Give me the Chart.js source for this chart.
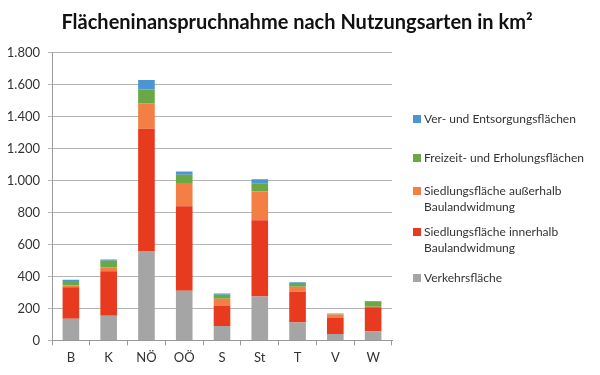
<!DOCTYPE html>
<html><head><meta charset="utf-8">
<script src="https://cdn.jsdelivr.net/npm/chart.js@4/dist/chart.umd.min.js"></script>
<style>html,body{margin:0;padding:0;background:#fff}#wrap{width:600px;height:375px}</style>
</head><body><div id="wrap"><canvas id="c" width="600" height="375"></canvas></div>
<script>
const categories = ['B','K','NÖ','OÖ','S','St','T','V','W'];
const verkehr    = [135,155,560,310, 90,275,112, 40, 57];
const innerhalb  = [198,278,765,530,128,477,193,100,150];
const ausserhalb = [ 10, 25,160,145, 42,180, 30, 22,  3];
const freizeit   = [ 28, 40, 85, 52, 25, 48, 25,  5, 35];
const versorgung = [  9,  8, 60, 20,  8, 28,  4,  2,  2];
const yTicks = [0,200,400,600,800,1000,1200,1400,1600,1800];
const titleText = 'Flächeninanspruchnahme nach Nutzungsarten in km²';
const seriesNames = ['Verkehrsfläche',
  ['Siedlungsfläche innerhalb','Baulandwidmung'],
  ['Siedlungsfläche außerhalb','Baulandwidmung'],
  'Freizeit- und Erholungsflächen',
  'Ver- und Entsorgungsflächen'];
const colors = ['#a5a5a5','#e83a1e','#f47f45','#6aa846','#4a96d0'];
const FONT = 'Lato, "Liberation Sans", sans-serif';

const decorPlugin = {
  id: 'decor',
  afterDraw(chart) {
    const ctx = chart.ctx;
    ctx.save();
    ctx.font = 'bold 20px ' + FONT;
    ctx.fillStyle = '#111';
    ctx.textAlign = 'center';
    ctx.textBaseline = 'middle';
    ctx.fillText(titleText, 297, 23);
    ctx.textAlign = 'left';
    const rows = [119, 158, 199, 240, 278]; // top-down: blue, green, orange, red, gray
    ctx.font = '12px ' + FONT;
    for (let i = 0; i < 5; i++) {
      const di = 4 - i;
      const name = seriesNames[di];
      const lines = Array.isArray(name) ? name : [name];
      const y0 = rows[i] - (lines.length - 1) * 8;
      ctx.fillStyle = colors[di];
      ctx.fillRect(413, y0 - 4, 8, 8);
      ctx.fillStyle = '#333';
      lines.forEach((t, k) => ctx.fillText(t, 424, y0 + k * 16));
    }
    ctx.restore();
  }
};

const ds = [verkehr, innerhalb, ausserhalb, freizeit, versorgung].map((d, i) => ({
  label: Array.isArray(seriesNames[i]) ? seriesNames[i].join(' ') : seriesNames[i],
  data: d, backgroundColor: colors[i], borderWidth: 0,
  barPercentage: 0.44, categoryPercentage: 1
}));

new Chart(document.getElementById('c'), {
  type: 'bar',
  data: { labels: categories, datasets: ds },
  options: {
    responsive: false, animation: false, devicePixelRatio: 1,
    layout: { padding: { left: 0, right: 208, top: 0, bottom: 4 } },
    plugins: {
      legend: { display: false },
      tooltip: { enabled: false },
      title: { display: true, text: titleText, color: 'rgba(0,0,0,0)',
        font: { family: FONT, size: 19, weight: 'bold' },
        padding: { top: 12, bottom: 18 } }
    },
    scales: {
      x: { stacked: true,
        grid: { offset: true, drawOnChartArea: false, tickLength: 5, color: '#999' },
        border: { color: '#999' },
        ticks: { color: '#333', font: { family: FONT, size: 13 }, padding: 5 } },
      y: { stacked: true, min: 0, max: 1800,
        afterBuildTicks: s => { s.ticks = yTicks.map(v => ({ value: v })); },
        afterFit: s => { s.width = 52; },
        grid: { color: '#b5b5b5', tickLength: 4 },
        border: { color: '#999' },
        ticks: { color: '#333', font: { family: FONT, size: 13 }, padding: 8,
          callback: v => v.toLocaleString('de-DE') } }
    }
  },
  plugins: [decorPlugin]
});
</script></body></html>
